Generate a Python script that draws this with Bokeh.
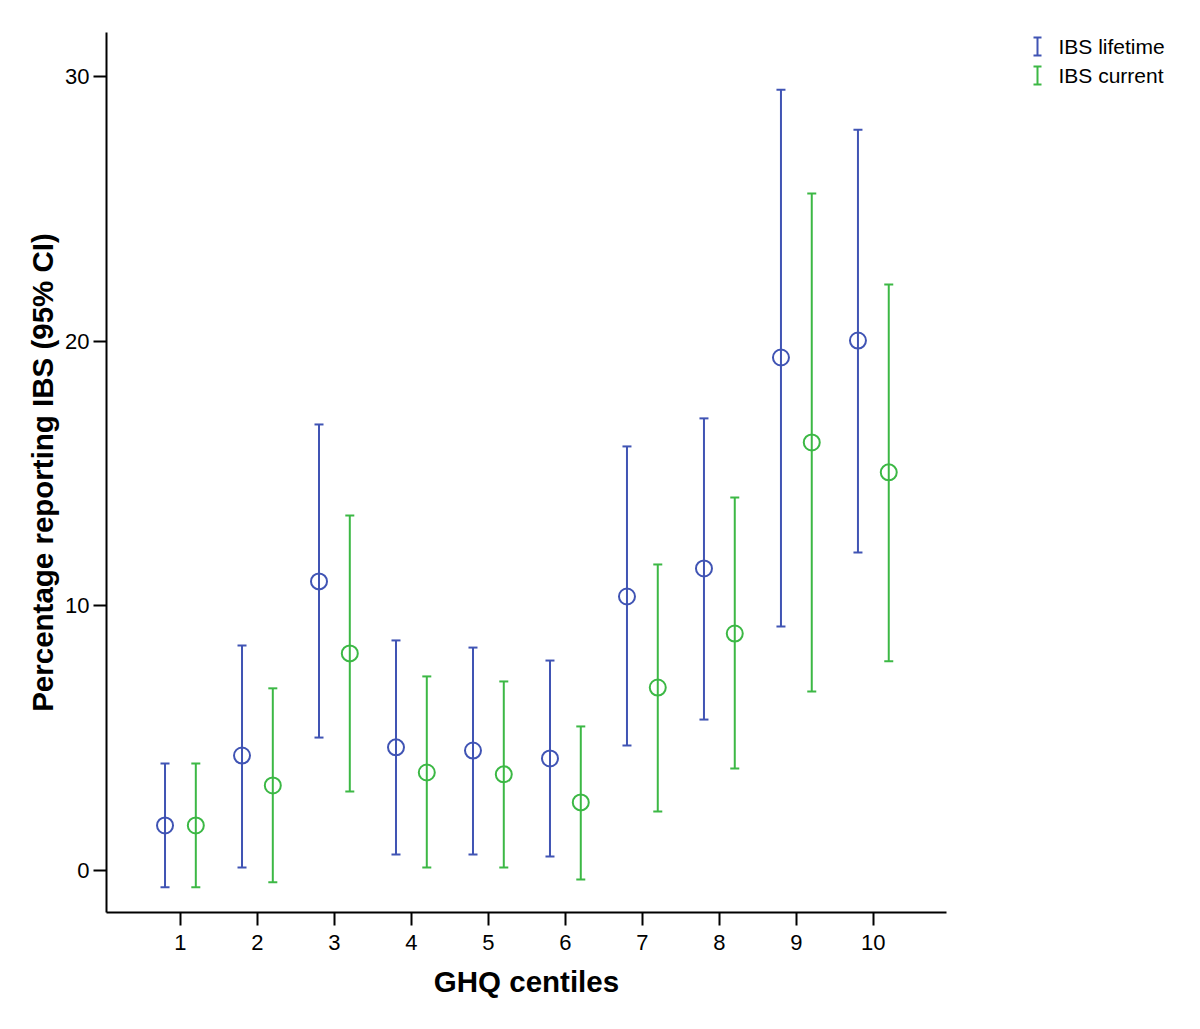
from bokeh.plotting import figure
from bokeh.models import Range1d, FixedTicker, ColumnDataSource, Whisker, TeeHead
from bokeh.layouts import row
from bokeh.core.properties import value
from bokeh.embed import file_html
from bokeh.resources import INLINE

centiles = [1, 2, 3, 4, 5, 6, 7, 8, 9, 10]
x_tick_labels = ["1", "2", "3", "4", "5", "6", "7", "8", "9", "10"]
y_ticks = [0, 10, 20, 30]

lifetime_mean = [1.70, 4.34, 10.92, 4.65, 4.53, 4.23, 10.35, 11.41, 19.38, 20.02]
lifetime_lower = [-0.64, 0.11, 5.02, 0.60, 0.60, 0.53, 4.72, 5.70, 9.22, 12.01]
lifetime_upper = [4.04, 8.50, 16.85, 8.69, 8.42, 7.93, 16.02, 17.08, 29.50, 27.99]

current_mean = [1.70, 3.21, 8.20, 3.70, 3.63, 2.57, 6.91, 8.95, 16.17, 15.04]
current_lower = [-0.64, -0.45, 2.98, 0.11, 0.11, -0.34, 2.23, 3.85, 6.76, 7.90]
current_upper = [4.04, 6.88, 13.41, 7.33, 7.14, 5.44, 11.56, 14.09, 25.58, 22.14]

series_names = ["IBS lifetime", "IBS current"]
BLUE = "#4054b4"
GREEN = "#3cb845"
FONT = "Liberation Sans"

H = 1013
TOP, BOTTOM = 32, 101
p = figure(width=948, height=H, output_backend="svg", toolbar_location=None,
           x_range=Range1d(0.04, 10.95), y_range=Range1d(-1.59, 31.66),
           min_border_left=106, min_border_right=2, min_border_top=TOP, min_border_bottom=BOTTOM)
p.outline_line_color = None
p.xgrid.visible = False
p.ygrid.visible = False
p.background_fill_color = "white"
p.border_fill_color = "white"

offset = 0.2
series = [
    (lifetime_mean, lifetime_lower, lifetime_upper, BLUE, -offset),
    (current_mean, current_lower, current_upper, GREEN, offset),
]
for mean, lo, hi, col, off in series:
    src = ColumnDataSource(dict(x=[c + off for c in centiles], m=mean, lo=lo, hi=hi))
    w = Whisker(source=src, base="x", lower="lo", upper="hi", dimension="height",
                line_color=col, line_width=2,
                lower_head=TeeHead(size=9, line_color=col, line_width=2),
                upper_head=TeeHead(size=9, line_color=col, line_width=2))
    p.add_layout(w)
    p.scatter("x", "m", source=src, marker="circle", size=16, fill_color=None,
              line_color=col, line_width=2)

for ax in (p.xaxis[0], p.yaxis[0]):
    ax.axis_line_width = 2
    ax.axis_line_color = "black"
    ax.major_tick_line_width = 2
    ax.major_tick_line_color = "black"
    ax.major_tick_out = 13
    ax.major_tick_in = 0
    ax.minor_tick_line_color = None
    ax.major_label_text_font = FONT
    ax.major_label_text_font_size = "22px"
    ax.major_label_text_color = "black"
    ax.axis_label_text_font = FONT
    ax.axis_label_text_font_size = "29.5px"
    ax.axis_label_text_font_style = "bold"
    ax.axis_label_text_color = "black"

p.xaxis.ticker = FixedTicker(ticks=centiles)
p.xaxis.major_label_overrides = {c: l for c, l in zip(centiles, x_tick_labels)}
p.xaxis.axis_label = "GHQ centiles"
p.xaxis.major_label_standoff = 9
p.xaxis.axis_label_standoff = 12

p.yaxis.ticker = FixedTicker(ticks=y_ticks)
p.yaxis.axis_label = "Percentage reporting IBS (95% CI)"
p.yaxis.major_label_standoff = 4
p.yaxis.axis_label_standoff = 3

# Legend panel (frame aligned with the main frame; data coords = page pixels)
lw = 240
leg = figure(width=lw, height=H, output_backend="svg", toolbar_location=None,
             x_range=Range1d(0, lw), y_range=Range1d(H - BOTTOM, TOP),
             min_border_left=0, min_border_right=0,
             min_border_top=TOP, min_border_bottom=BOTTOM)
leg.axis.visible = False
leg.grid.visible = False
leg.outline_line_color = None
leg.border_fill_color = "white"

legend_colors = [BLUE, GREEN]
leg_x, leg_text_x, leg_y0, leg_dy, half, cap = 89, 110, 46, 29, 9, 4
for i, (name, col) in enumerate(zip(series_names, legend_colors)):
    yc = leg_y0 + i * leg_dy
    leg.segment(x0=[leg_x, leg_x - cap, leg_x - cap], y0=[yc - half, yc - half, yc + half],
                x1=[leg_x, leg_x + cap, leg_x + cap], y1=[yc + half, yc - half, yc + half],
                line_color=col, line_width=2)
    leg.text(x=[leg_text_x], y=[yc], text=[name], text_font=value(FONT),
             text_font_size="21px", text_baseline="middle", text_align="left",
             text_color="black")

layout = row(p, leg)
open("out.html", "w").write(file_html(layout, INLINE))
